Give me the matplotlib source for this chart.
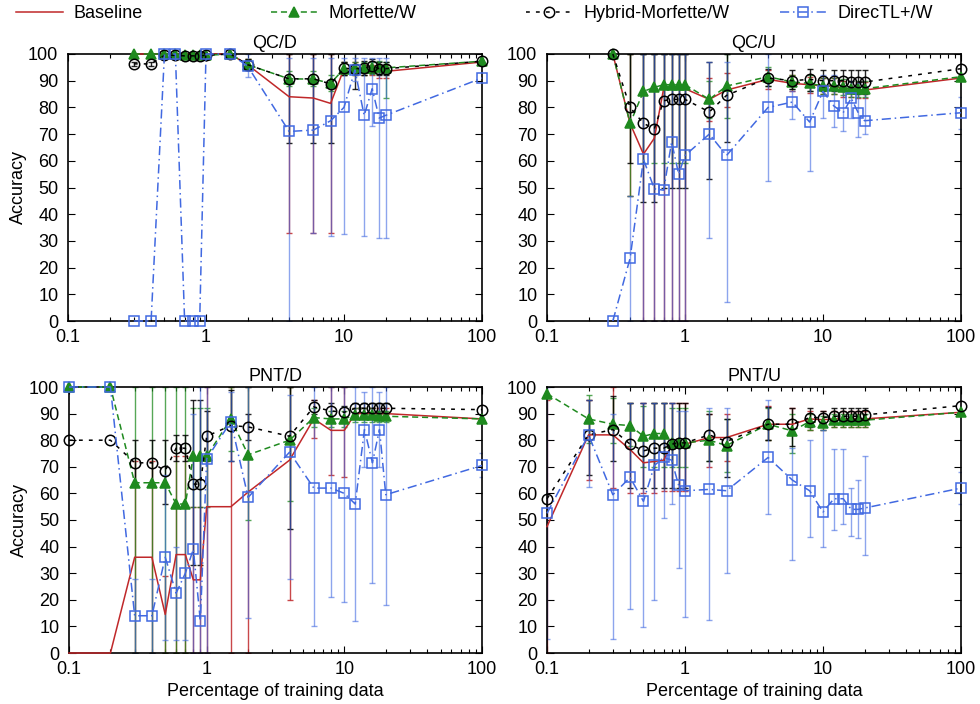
import numpy as np
import matplotlib
matplotlib.use("Agg")
import matplotlib.pyplot as plt
from matplotlib.lines import Line2D
from matplotlib.ticker import LogLocator, FixedLocator, FuncFormatter, NullFormatter

plt.rcParams['font.family'] = ['Liberation Sans', 'DejaVu Sans']

# ---- training-set sizes (percent) ----
x_qc = [0.3, 0.4, 0.5, 0.6, 0.7, 0.8, 0.9, 1, 1.5, 2, 4, 6, 8, 10, 12, 14, 16, 18, 20, 100]
x_pnt = [0.1, 0.2, 0.3, 0.4, 0.5, 0.6, 0.7, 0.8, 0.9, 1, 1.5, 2, 4, 6, 8, 10, 12, 14, 16, 18, 20, 100]

# ---- QC/D ----
qcd_base = [100, 100, 100, 100, 100, 100, 100, 100, 100, 96, 84, 83.5, 81.5, 94.5, 94.5, 94, 94, 93.5, 93.5, 97]
qcd_base_lo = [100, 100, 100, 100, 100, 100, 100, 100, 100, 94, 33, 33, 33, 92, 92, 92, 92, 91, 91, 97]
qcd_base_hi = [100, 100, 100, 100, 100, 100, 100, 100, 100, 98, 100, 100, 100, 97, 97, 96, 96, 96, 96, 97]
qcd_morf = [100, 100, 100, 100, 99.5, 99.5, 99.5, 99.5, 100, 96, 90.7, 90.6, 89, 94.5, 94.6, 94.6, 94.9, 95, 94.8, 97.3]
qcd_morf_lo = [100, 100, 100, 100, 99.5, 99.5, 99.5, 99.5, 100, 94, 88, 88, 86, 92, 92, 92, 92.5, 92.5, 83.5, 97.3]
qcd_morf_hi = [100, 100, 100, 100, 99.5, 99.5, 99.5, 99.5, 100, 98, 93.5, 93.5, 92, 97, 97, 97, 97, 97.5, 97, 97.3]
qcd_hyb = [96.3, 96.3, 99.5, 99.5, 99.3, 99.3, 99.3, 99.5, 100, 96, 90.7, 90.7, 88.8, 94.6, 94.5, 94.7, 95.5, 94.5, 94.5, 97.3]
qcd_hyb_lo = [95.5, 95.5, 99, 99, 99, 99, 99, 99, 100, 94, 66.5, 66.5, 66.5, 92, 87, 92, 93, 92, 92, 97.3]
qcd_hyb_hi = [97, 97, 100, 100, 100, 100, 100, 100, 100, 98, 100, 100, 100, 97, 101, 97.5, 98, 97, 97, 97.3]
qcd_dtl = [0, 0, 100, 100, 0, 0, 0, 100, 100, 95.5, 71, 71.5, 75, 80, 94, 77, 87, 76, 77, 91]
qcd_dtl_lo = [0, 0, 100, 100, 0, 0, 0, 100, 100, 91.5, 0, 33, 32, 32.5, 90, 32, 73, 31, 31, 91]
qcd_dtl_hi = [0, 0, 100, 100, 0, 0, 0, 100, 100, 100, 98.5, 98.5, 98.5, 98.5, 98.5, 98.5, 98.5, 98.5, 98.5, 91]

# ---- QC/U ----
qcu_base = [100, 74, 62.5, 68.5, 87, 87, 87, 87, 83, 86.5, 90.5, 89, 88.5, 88, 88, 87, 87, 86.5, 86.5, 91]
qcu_base_lo = [100, 47, 0, 0, 0, 0, 0, 0, 75, 80, 87, 86, 85.5, 85, 85, 84, 84, 83.5, 83.5, 91]
qcu_base_hi = [100, 100, 100, 100, 100, 100, 100, 100, 91, 93, 94, 92, 91.5, 91, 91, 90, 90, 89.5, 89.5, 91]
qcu_morf = [100, 74, 86, 87.5, 88.5, 88.5, 88.5, 88.5, 83, 88, 91.5, 89.5, 89, 88, 88, 87.5, 87, 87, 87, 91.5]
qcu_morf_lo = [100, 47, 59, 59, 59, 59, 59, 59, 76, 76, 88, 87, 86, 85, 85, 84.5, 84, 84, 84, 91.5]
qcu_morf_hi = [100, 100, 100, 100, 100, 100, 100, 100, 90, 100, 95, 92, 92, 91, 91, 90.5, 90, 90, 90, 91.5]
qcu_hyb = [100, 80, 74, 72, 82.5, 83, 83, 83, 78.3, 84.5, 91, 90, 90.5, 90, 90, 90, 89.5, 89.5, 89.5, 94.5]
qcu_hyb_lo = [100, 59, 44.5, 44.5, 50, 50, 50, 50, 53, 67, 88, 87, 86, 86, 86, 86, 86, 85, 85, 94.5]
qcu_hyb_hi = [100, 100, 100, 100, 100, 100, 100, 100, 97, 100, 94.5, 94, 94.5, 94, 94, 94, 94, 94, 94, 94.5]
qcu_dtl = [0, 23.5, 60.5, 49.5, 49, 67, 55, 62, 70, 62, 80, 82, 74.5, 86, 80.5, 78, 83.5, 78, 75, 78]
qcu_dtl_lo = [0, 0, 0, 0, 0, 0, 0, 0, 31, 7.3, 52.5, 75.5, 56, 76, 72.6, 71, 76, 69, 70, 72]
qcu_dtl_hi = [0, 47, 100, 100, 100, 100, 100, 100, 97, 97, 100, 86, 88, 92, 92, 88, 90, 89, 88, 84]

# ---- PNT/D ----
pntd_base = [0, 0, 36, 36, 14.5, 37, 37, 27.5, 27.5, 55, 55, 60.5, 72.5, 88, 83.7, 83.7, 90, 90, 90, 90, 90, 88]
pntd_base_lo = [0, 0, 0, 0, 0, 0, 0, 0, 0, 0, 0, 0, 20, 81, 67, 66, 88, 88, 88, 88, 88, 88]
pntd_base_hi = [0, 0, 72, 72, 29, 74, 74, 55, 55, 100, 100, 100, 100, 95, 100, 100, 92, 92, 92, 92, 92, 88]
pntd_morf = [100, 100, 64, 64, 64, 56, 56, 74, 74, 74, 88, 74.5, 80, 88.5, 88, 88, 89.5, 89.5, 89.5, 89, 89, 88]
pntd_morf_lo = [100, 100, 0, 0, 0, 0, 0, 55, 55, 55, 76, 50, 57, 85, 85, 85, 87, 87, 87, 87, 87, 88]
pntd_morf_hi = [100, 100, 100, 100, 100, 100, 100, 92, 92, 92, 100, 100, 100, 92, 91, 91, 92, 92, 92, 91, 91, 88]
pntd_hyb = [80, 80, 71.5, 71.5, 68.5, 77, 77, 63.5, 63.5, 81.5, 85.5, 85, 81.5, 92.5, 91, 90.5, 92, 92, 92, 92, 92, 91.5]
pntd_hyb_lo = [80, 80, 63, 63, 56, 72, 72, 33, 33, 72, 72, 80, 46.7, 90, 88, 88, 90, 90, 90, 90, 90, 91.5]
pntd_hyb_hi = [80, 80, 80, 80, 80, 82, 82, 95, 95, 91, 99, 90, 100, 95, 94, 93, 94, 94, 94, 94, 94, 91.5]
pntd_dtl = [100, 100, 14, 14, 36, 22.5, 30, 39, 12, 73, 87, 58.5, 75.5, 62, 62, 60, 56, 84, 71.5, 84, 59.5, 70.5]
pntd_dtl_lo = [100, 100, 0, 0, 5, 5, 5, 0, 0, 0, 72, 13, 28, 10, 21, 19, 12, 70, 26.5, 70, 18, 66]
pntd_dtl_hi = [100, 100, 28, 28, 67, 40, 55, 90, 100, 100, 98, 100, 97, 100, 100, 100, 100, 98, 100, 98, 100, 75]

# ---- PNT/U ----
pntu_base = [47.5, 82, 82, 76.5, 71.5, 72, 72.5, 78, 78.5, 78.5, 81, 81, 86, 86, 88, 87.7, 88, 88, 88, 88, 88, 90.5]
pntu_base_lo = [0, 65, 62, 60, 60, 60, 61, 61, 61, 61, 70, 72, 80, 82, 84, 84, 85, 85, 85, 85, 85, 90.5]
pntu_base_hi = [95, 95, 100, 94, 94, 94, 94, 94, 94, 94, 90, 90, 93, 92, 91, 91, 91, 91, 91, 91, 91, 90.5]
pntu_morf = [97.5, 88, 86, 85.5, 81.5, 82.5, 82.5, 79, 79, 79, 80, 78, 86, 83.5, 87, 86.5, 87.5, 87.5, 87.5, 87.5, 87.5, 90.5]
pntu_morf_lo = [97.5, 79, 79, 78, 70, 70, 70, 70, 70, 70, 72, 68, 80, 75, 84, 84, 85, 85, 85, 85, 85, 90.5]
pntu_morf_hi = [97.5, 97, 96, 94, 93, 94, 94, 92, 92, 92, 91, 88, 92, 90, 90, 89, 90, 90, 90, 90, 90, 90.5]
pntu_hyb = [58, 82, 84, 78.5, 76, 77, 77, 78.5, 79, 79, 82, 79.5, 86, 86, 88.5, 88.5, 89, 89, 89, 89, 89.5, 93]
pntu_hyb_lo = [58, 67, 72, 62, 62, 62, 62, 62, 62, 62, 72, 66, 80, 78, 85, 86, 86, 86, 86, 86, 86, 93]
pntu_hyb_hi = [58, 95, 96.5, 94, 94, 94, 94, 94, 94, 94, 90, 88, 92.5, 92, 92, 91, 92, 92, 92, 92, 92, 93]
pntu_dtl = [52.5, 82, 59.5, 66, 57, 70.5, 73.5, 72.5, 63, 61, 61.5, 61, 73.5, 65, 61, 53, 58, 58, 54, 54, 54.5, 62]
pntu_dtl_lo = [5.4, 62.4, 5.4, 16.4, 9.7, 20, 50.7, 56, 32, 13.4, 12.4, 30, 52.2, 35, 43.6, 40, 46.4, 48.6, 43.9, 43.2, 36.7, 56]
pntu_dtl_hi = [100, 95, 90, 94, 94, 94, 94, 94, 91, 91, 92, 92, 95, 77, 80, 84, 76.8, 76.8, 62, 65, 74, 68]

titles = ["QC/D", "QC/U", "PNT/D", "PNT/U"]
labels = ["Baseline", "Morfette/W", "Hybrid-Morfette/W", "DirecTL+/W"]

RED = "#c0282a"
GREEN = "#1f8a1f"
BLACK = "#000000"
BLUE = "#4169e1"

styles = [
    dict(color=RED, ls="-", marker=None, ms=0, mfc="none"),
    dict(color=GREEN, ls=(0, (4, 2.5)), marker="^", ms=6.5, mfc=GREEN),
    dict(color=BLACK, ls=(0, (2.5, 4)), marker="o", ms=7.5, mfc="none"),
    dict(color=BLUE, ls=(0, (6, 2.5, 1, 2.5)), marker="s", ms=7.5, mfc="none"),
]
err_alpha = [0.85, 0.75, 0.85, 0.6]

panels = [
    (x_qc, [(qcd_base, qcd_base_lo, qcd_base_hi), (qcd_morf, qcd_morf_lo, qcd_morf_hi),
            (qcd_hyb, qcd_hyb_lo, qcd_hyb_hi), (qcd_dtl, qcd_dtl_lo, qcd_dtl_hi)]),
    (x_qc, [(qcu_base, qcu_base_lo, qcu_base_hi), (qcu_morf, qcu_morf_lo, qcu_morf_hi),
            (qcu_hyb, qcu_hyb_lo, qcu_hyb_hi), (qcu_dtl, qcu_dtl_lo, qcu_dtl_hi)]),
    (x_pnt, [(pntd_base, pntd_base_lo, pntd_base_hi), (pntd_morf, pntd_morf_lo, pntd_morf_hi),
             (pntd_hyb, pntd_hyb_lo, pntd_hyb_hi), (pntd_dtl, pntd_dtl_lo, pntd_dtl_hi)]),
    (x_pnt, [(pntu_base, pntu_base_lo, pntu_base_hi), (pntu_morf, pntu_morf_lo, pntu_morf_hi),
             (pntu_hyb, pntu_hyb_lo, pntu_hyb_hi), (pntu_dtl, pntu_dtl_lo, pntu_dtl_hi)]),
]

W, H = 980, 704
fig = plt.figure(figsize=(W / 100, H / 100), dpi=100)

# axes boxes in pixels: left, top, right, bottom
boxes = [(68, 54, 482, 321), (547, 54, 961, 321), (69, 387, 482, 653), (547, 387, 961, 653)]

FS = 13
for i, ((xs, series), box) in enumerate(zip(panels, boxes)):
    l, t, r, b = box
    ax = fig.add_axes([l / W, 1 - b / H, (r - l) / W, (b - t) / H])
    ax.set_xscale("log")
    ax.set_xlim(0.1, 100)
    ax.set_ylim(0, 100)
    xs = np.asarray(xs, dtype=float)
    for k, ((y, lo, hi), st) in enumerate(zip(series, styles)):
        y = np.asarray(y, float)
        lo = np.asarray(lo, float)
        hi = np.asarray(hi, float)
        m = (hi - lo) > 0.01
        if m.any():
            ax.errorbar(xs[m], y[m], yerr=[np.clip(y[m] - lo[m], 0, None), np.clip(hi[m] - y[m], 0, None)],
                        fmt="none", ecolor=st["color"], elinewidth=1.0, capsize=2,
                        capthick=1.0, alpha=err_alpha[k], zorder=2 + k * 0.1)
    for k, ((y, lo, hi), st) in enumerate(zip(series, styles)):
        ax.plot(xs, y, color=st["color"], ls=st["ls"], lw=1.1,
                marker=st["marker"], ms=st["ms"], mfc=st["mfc"], mec=st["color"], mew=1.1,
                clip_on=False, zorder=4 + k * 0.1)
    ax.set_yticks(np.arange(0, 101, 10))
    ax.xaxis.set_major_locator(FixedLocator([0.1, 1, 10, 100]))
    ax.xaxis.set_major_formatter(FuncFormatter(lambda v, p: "%g" % v))
    ax.xaxis.set_minor_locator(LogLocator(base=10, subs=np.arange(2, 10)))
    ax.xaxis.set_minor_formatter(NullFormatter())
    ax.tick_params(which="both", direction="in", top=True, right=True, labelsize=FS)
    ax.tick_params(which="major", length=5, width=0.8)
    ax.tick_params(which="minor", length=3, width=0.8)
    ax.tick_params(axis="y", pad=7)
    ax.tick_params(axis="x", pad=6)
    for sp in ax.spines.values():
        sp.set_linewidth(1.2)
    ax.set_title(titles[i], fontsize=FS, pad=4)
    if i in (0, 2):
        ax.set_ylabel("Accuracy", fontsize=FS, labelpad=1)
    if i in (2, 3):
        ax.set_xlabel("Percentage of training data", fontsize=FS, labelpad=3)

# legend row across the top
leg_x = [16, 271, 526, 780]
for lab, st, lx in zip(labels, styles, leg_x):
    h = Line2D([], [], color=st["color"], ls=st["ls"], lw=1.1, marker=st["marker"],
               ms=st["ms"], mfc=st["mfc"], mec=st["color"], mew=1.1)
    fig.legend(handles=[h], labels=[lab], loc="center left", bbox_to_anchor=(lx / W, 1 - 14 / H),
               frameon=False, fontsize=FS, handlelength=2.6, handletextpad=0.6,
               borderpad=0, borderaxespad=0)

fig.savefig("out.png", dpi=100)
